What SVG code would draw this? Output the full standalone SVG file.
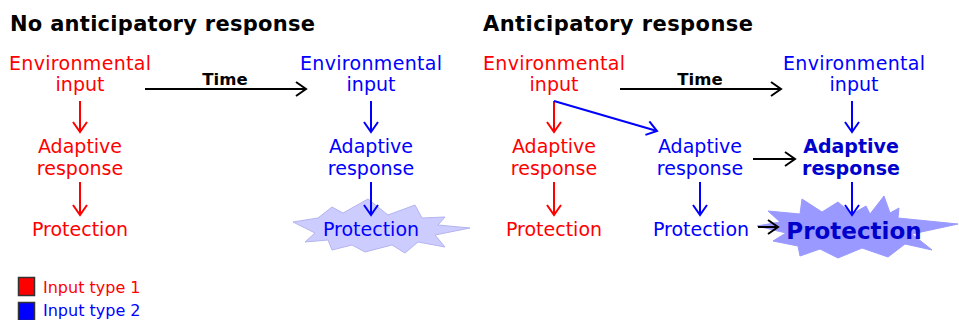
<svg xmlns="http://www.w3.org/2000/svg" width="959" height="320" viewBox="0 0 959 320">
<style>
text{font-family:"DejaVu Sans","Verdana",sans-serif;text-anchor:middle}
.title{font-size:21px;font-weight:bold;fill:#000;text-anchor:start}
.r{fill:#ff0000;font-size:19px}
.b{fill:#0000ff;font-size:19px}
.bb{fill:#0000cc;font-size:19px;font-weight:bold}
.time{font-size:16.5px;font-weight:bold;fill:#000}
.leg{font-size:16px;text-anchor:start}
.ar{fill:none;stroke-width:2}
.ar-r{stroke:#ff0000;marker-end:url(#hr)}
.ar-b{stroke:#0000ff;marker-end:url(#hb)}
.ar-k{stroke:#000;marker-end:url(#hk)}
</style>
<defs>
<marker id="hr" viewBox="-11 -8 13 16" markerWidth="13" markerHeight="16" refX="0" refY="0" orient="auto" markerUnits="userSpaceOnUse"><path d="M-10,-7 L0,0 L-10,7" fill="none" stroke="#ff0000" stroke-width="2"/></marker>
<marker id="hb" viewBox="-11 -8 13 16" markerWidth="13" markerHeight="16" refX="0" refY="0" orient="auto" markerUnits="userSpaceOnUse"><path d="M-10,-7 L0,0 L-10,7" fill="none" stroke="#0000ff" stroke-width="2"/></marker>
<marker id="hk" viewBox="-11 -8 13 16" markerWidth="13" markerHeight="16" refX="0" refY="0" orient="auto" markerUnits="userSpaceOnUse"><path d="M-10,-7 L0,0 L-10,7" fill="none" stroke="#000" stroke-width="2"/></marker>
</defs>
<rect width="959" height="320" fill="#fff"/>

<text class="title" x="10" y="31" textLength="305">No anticipatory response</text>
<text class="title" x="483" y="31" textLength="270">Anticipatory response</text>

<!-- starbursts -->
<g id="burst-left">
<polygon points="293,222 318,218 332,207 343,213 368,199 388,215 415,205 422,218 445,217 438,225 470,228 435,235 445,247 418,242 405,253 392,245 365,252 352,245 332,250 328,240 305,242 315,233" fill="#ccccff" stroke="#b4b4f0" stroke-width="1"/>
</g>
<g id="burst-right">
<polygon points="757,226 780,222 768,211 800,214 802,199 822,212 838,202 852,214 866,206 870,214 884,196 890,213 899,208 898,218 958,224 912,234 932,250 905,244 888,257 862,248 838,258 820,249 800,256 798,246 773,241 786,233" fill="#9999ff" stroke="#9999ff" stroke-width="1"/>
</g>

<!-- left panel nodes -->
<g id="l-env1"><text class="r" x="80" y="70" textLength="142">Environmental</text><text class="r" x="80" y="91">input</text></g>
<g id="l-adapt1"><text class="r" x="80" y="153">Adaptive</text><text class="r" x="80" y="175">response</text></g>
<g id="l-prot1"><text class="r" x="80" y="236">Protection</text></g>
<g id="l-env2"><text class="b" x="371" y="70" textLength="142">Environmental</text><text class="b" x="371" y="91">input</text></g>
<g id="l-adapt2"><text class="b" x="371" y="153">Adaptive</text><text class="b" x="371" y="175">response</text></g>
<g id="l-prot2"><text class="b" x="371" y="236">Protection</text></g>

<!-- right panel nodes -->
<g id="r-env1"><text class="r" x="554" y="70" textLength="142">Environmental</text><text class="r" x="554" y="91">input</text></g>
<g id="r-adapt1"><text class="r" x="554" y="153">Adaptive</text><text class="r" x="554" y="175">response</text></g>
<g id="r-prot1"><text class="r" x="554" y="236">Protection</text></g>
<g id="r-adaptmid"><text class="b" x="700" y="153">Adaptive</text><text class="b" x="700" y="175">response</text></g>
<g id="r-protmid"><text class="b" x="701" y="236">Protection</text></g>
<g id="r-env2"><text class="b" x="854" y="70" textLength="142">Environmental</text><text class="b" x="854" y="91">input</text></g>
<g id="r-adapt2"><text class="bb" x="851" y="153">Adaptive</text><text class="bb" x="851" y="175">response</text></g>
<g id="r-prot2"><text class="bb" x="854" y="239" style="font-size:23px">Protection</text></g>

<!-- connectors -->
<g id="connectors">
<line class="ar ar-r" x1="80" y1="101" x2="80" y2="132"/>
<line class="ar ar-r" x1="80" y1="182" x2="80" y2="215"/>
<line class="ar ar-b" x1="371" y1="101" x2="371" y2="132"/>
<line class="ar ar-b" x1="371" y1="182" x2="371" y2="215"/>
<line class="ar ar-k" x1="145" y1="89" x2="306" y2="89"/>
<text class="time" x="225" y="85">Time</text>

<line class="ar ar-r" x1="554" y1="101" x2="554" y2="132"/>
<line class="ar ar-r" x1="554" y1="182" x2="554" y2="215"/>
<line class="ar ar-b" x1="554" y1="101" x2="657" y2="131"/>
<line class="ar ar-b" x1="700" y1="182" x2="700" y2="215"/>
<line class="ar ar-b" x1="852" y1="101" x2="852" y2="132"/>
<line class="ar ar-b" x1="852" y1="182" x2="852" y2="215"/>
<line class="ar ar-k" x1="620" y1="89" x2="781" y2="89"/>
<text class="time" x="700" y="85">Time</text>
<line class="ar ar-k" x1="753" y1="159" x2="795" y2="159"/>
<line class="ar ar-k" x1="758" y1="227" x2="778" y2="227"/>
</g>

<!-- legend -->
<g id="legend">
<rect x="18.5" y="277.5" width="16" height="18" fill="#ff0000" stroke="#333" stroke-width="1.5"/>
<text class="leg" x="43" y="293" fill="#ff0000">Input type 1</text>
<rect x="18.5" y="302.5" width="16" height="18" fill="#0000ff" stroke="#333" stroke-width="1.5"/>
<text class="leg" x="43" y="316" fill="#0000ff">Input type 2</text>
</g>
</svg>
